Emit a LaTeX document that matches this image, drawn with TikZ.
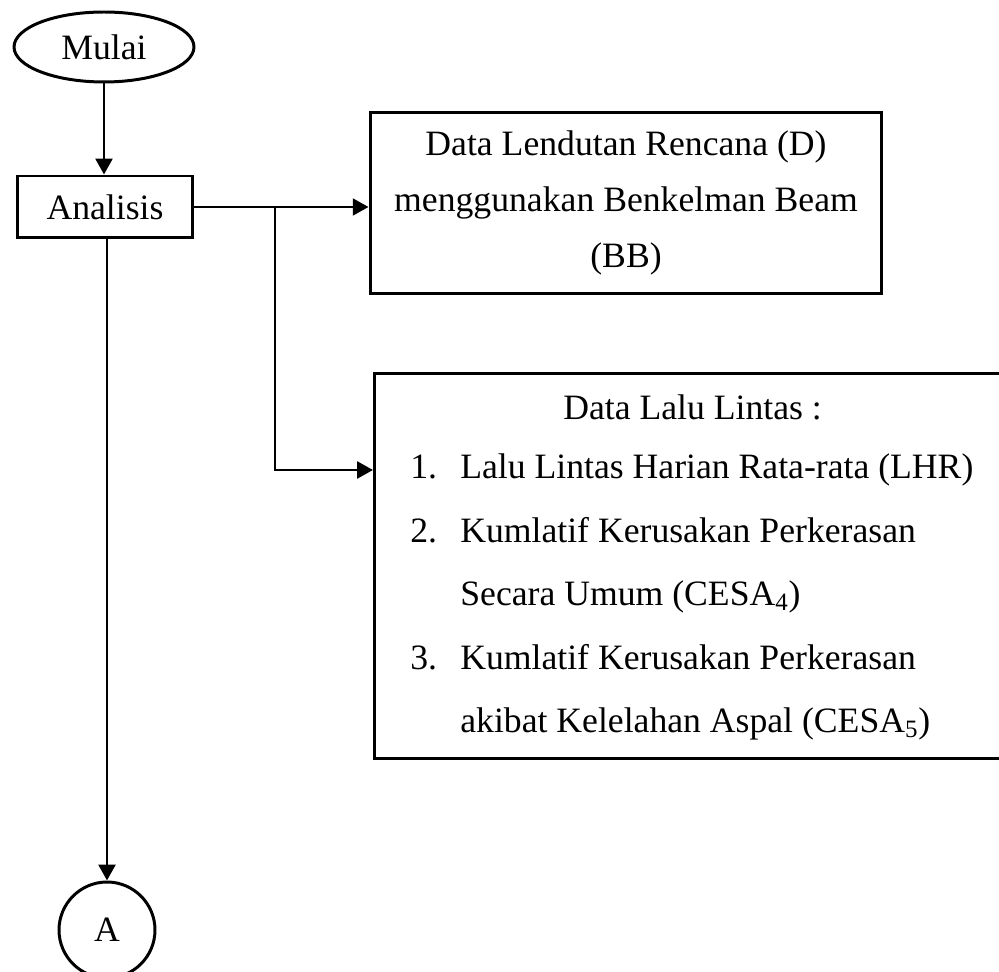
\documentclass[tikz,border=0pt]{standalone}
\usepackage{fontspec}
\setmainfont{Liberation Serif}
\usetikzlibrary{shapes.geometric,arrows.meta}
\tikzset{
  lnk/.style={line width=1.7pt,-{Triangle[length=9pt,width=9.5pt]}},
  boxed/.style={draw,line width=1.7pt,rectangle,inner sep=0pt},
  txt/.style={inner sep=0pt},
}
\begin{document}
\begin{tikzpicture}[x=0.02cm,y=-0.02cm,font=\fontsize{20.3}{32}\selectfont]
\useasboundingbox (0,0) rectangle (999,972);
% start
\node[draw,line width=1.7pt,ellipse,minimum width=3.6cm,minimum height=1.4cm,inner sep=0pt] (mulai) at (104,47) {Mulai};
\node[boxed,minimum width=3.52cm,minimum height=1.24cm] (analisis) at (105,207) {Analisis};
% box 1
\node[boxed,minimum width=10.24cm,minimum height=3.64cm,align=center] (lend) at (626,203)
  {Data Lendutan Rencana (D)\\menggunakan Benkelman Beam\\(BB)};
% box 2
\node[boxed,anchor=north west,minimum width=14cm,minimum height=7.7cm] (lalu) at (373,372) {};
\node[txt,anchor=base west] (title) at (563,419) {Data Lalu Lintas :};
\node[txt,anchor=base west] (l1) at (410,478) {\makebox[1.0cm][l]{1.}Lalu Lintas Harian Rata-rata (LHR)};
\node[txt,anchor=base west] (l2) at (410,542) {\makebox[1.0cm][l]{2.}Kumlatif Kerusakan Perkerasan};
\node[txt,anchor=base west] (l3) at (460,605) {Secara Umum (CESA\textsubscript{4})};
\node[txt,anchor=base west] (l4) at (410,669) {\makebox[1.0cm][l]{3.}Kumlatif Kerusakan Perkerasan};
\node[txt,anchor=base west] (l5) at (460,732) {akibat Kelelahan Aspal (CESA\textsubscript{5})};
% off-page connector
\node[draw,line width=1.7pt,circle,minimum size=1.92cm,inner sep=0pt] (circA) at (107,930) {A};
% arrows
\draw[lnk] (mulai.south) -- (mulai.south |- analisis.north);
\draw[lnk] (analisis.east) -- (analisis.east -| lend.west);
\coordinate (br) at (275,207);
\coordinate (br2) at (275,470);
\draw[lnk] (br) -- (br2) -- (br2 -| lalu.west);
\draw[lnk] (circA |- analisis.south) -- (circA.north);
\end{tikzpicture}
\end{document}
